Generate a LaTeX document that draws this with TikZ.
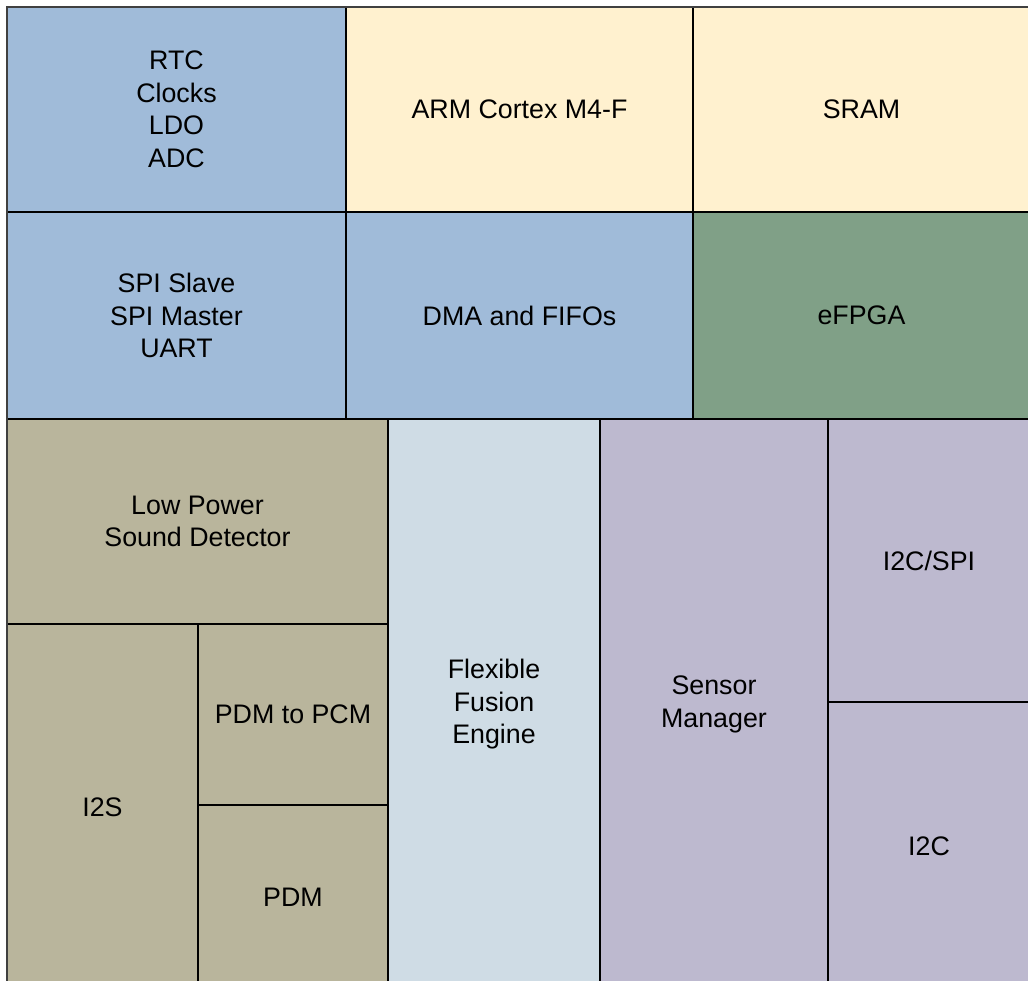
\documentclass[tikz,border=0pt]{standalone}
\usepackage{fontspec}
\setmainfont{Liberation Sans}
\definecolor{cblue}{HTML}{A0BBD9}
\definecolor{cyellow}{HTML}{FFF1CF}
\definecolor{cgreen}{HTML}{80A087}
\definecolor{ctan}{HTML}{B9B59C}
\definecolor{cpale}{HTML}{CFDCE5}
\definecolor{cpurple}{HTML}{BDB9CF}
\begin{document}
\begin{tikzpicture}[x=1pt,y=-1pt,
  blk/.style={draw=black, line width=1.3pt, rectangle, inner sep=0pt, outer sep=0pt,
    align=center, font=\fontsize{26.8}{32.5}\selectfont},
  bw/.style 2 args={minimum width=#1pt, minimum height=#2pt}]
\useasboundingbox (0,0) rectangle (1028,980);
\fill[white] (0,0) rectangle (1028,980);
\clip (0,0) rectangle (1028,980);
% top row
\node[blk, fill=cblue, bw={339}{205}] (rtc) at (176.5,109.5) {RTC\\Clocks\\LDO\\ADC};
\node[blk, fill=cyellow, bw={347}{205}] (arm) at (519.5,109.5) {ARM Cortex M4-F};
\node[blk, fill=cyellow, bw={337}{205}] (sram) at (861.5,109.5) {SRAM};
% second row
\node[blk, fill=cblue, bw={339}{207}] (spi) at (176.5,315.5) {SPI Slave\\SPI Master\\UART};
\node[blk, fill=cblue, bw={347}{207}] (dma) at (519.5,315.5) {DMA and FIFOs};
\node[blk, fill=cgreen, bw={337}{207}] (efpga) at (861.5,315.5) {eFPGA};
% bottom section
\node[blk, fill=ctan, bw={381}{205}] (lpsd) at (197.5,521.5) {Low Power\\Sound Detector};
\node[blk, fill=ctan, bw={191}{366}] (i2s) at (102.5,807) {I2S};
\node[blk, fill=ctan, bw={190}{181}] (p2p) at (293,714.5) {PDM to PCM};
\node[blk, fill=ctan, bw={190}{185}] (pdm) at (293,897.5) {PDM};
\node[blk, fill=cpale, bw={212}{571}] (ffe) at (494,704.5) {Flexible\\Fusion\\Engine};
\node[blk, fill=cpurple, bw={228}{571}] (sm) at (714,704.5) {Sensor\\Manager};
\node[blk, fill=cpurple, bw={202}{283}] (i2cspi) at (929,560.5) {I2C/SPI};
\node[blk, fill=cpurple, bw={202}{288}] (i2c) at (929,846) {I2C};
% outer frame
\draw[line width=2.2pt, black!75] (7,1000) -- (7,7) -- (1040,7);
\end{tikzpicture}
\end{document}
